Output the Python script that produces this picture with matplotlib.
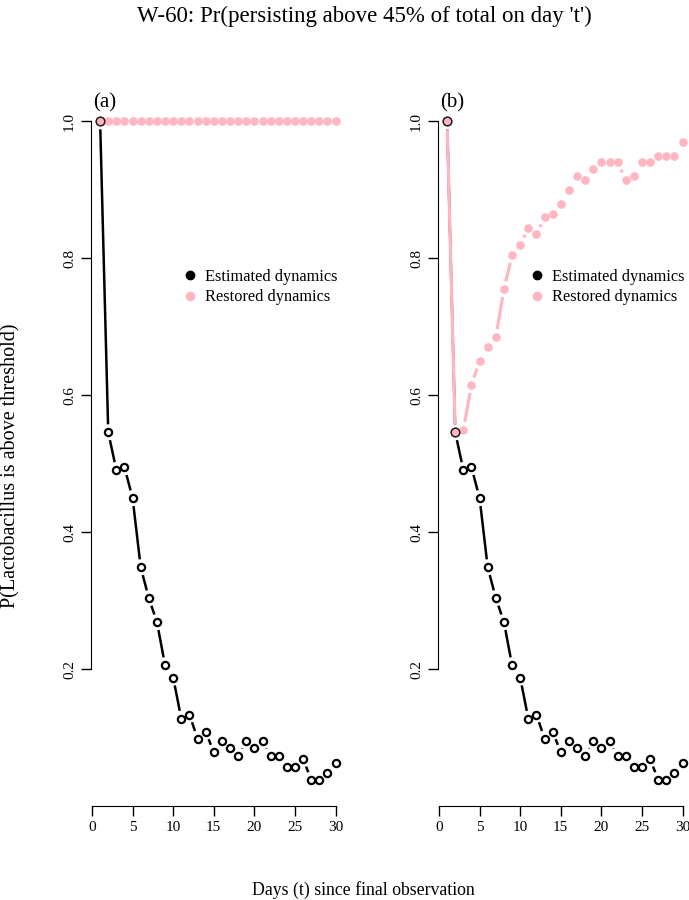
import matplotlib
matplotlib.use('Agg')
import matplotlib.pyplot as plt
import numpy as np

plt.rcParams['font.family'] = ['Liberation Serif', 'DejaVu Serif']

days = list(range(1, 31))
estimated = [1.0, 0.546, 0.491, 0.495, 0.450, 0.349, 0.304, 0.269, 0.206, 0.188,
             0.128, 0.134, 0.099, 0.109, 0.079, 0.095, 0.085, 0.074, 0.095, 0.085,
             0.095, 0.074, 0.074, 0.058, 0.058, 0.069, 0.039, 0.039, 0.049, 0.064]
restored_a = [1.0] * 30
restored_b = [1.0, 0.546, 0.550, 0.615, 0.650, 0.670, 0.685, 0.755, 0.805, 0.820,
              0.845, 0.835, 0.860, 0.865, 0.880, 0.900, 0.920, 0.915, 0.930, 0.940,
              0.940, 0.940, 0.915, 0.920, 0.940, 0.940, 0.950, 0.950, 0.950, 0.970]
intervention_a = [1]
intervention_b = [1, 2]
panel_names = ['(a)', '(b)']
x_ticks = [0, 5, 10, 15, 20, 25, 30]
y_ticks = [0.2, 0.4, 0.6, 0.8, 1.0]

PINK = '#ffb6c1'
W, H = 689, 900


def gap_line(ax, x, y, color, lw, z, gap=8.0):
    # R style type="b": segments stop short of the points
    tr = ax.transData
    pts = tr.transform(np.column_stack([x, y]))
    for i in range(len(pts) - 1):
        p0, p1 = pts[i], pts[i + 1]
        d = p1 - p0
        L = np.hypot(d[0], d[1])
        if L <= 2 * gap:
            continue
        u = d / L
        a = tr.inverted().transform([p0 + u * gap, p1 - u * gap])
        ax.plot(a[:, 0], a[:, 1], color=color, lw=lw, solid_capstyle='butt', zorder=z)


fig = plt.figure(figsize=(W / 100, H / 100), dpi=100)
panels = [(90.7, restored_a, intervention_a), (437.7, restored_b, intervention_b)]
for k, (left_px, restored, marked) in enumerate(panels):
    ax = fig.add_axes([left_px / W, (H - 806) / H, 254.3 / W, 711 / H])
    ax.set_xlim(1 - 29 * 0.04, 30 + 29 * 0.04)
    ymin, ymax = min(estimated), 1.0
    ext = (ymax - ymin) * 0.04
    ax.set_ylim(ymin - ext, ymax + ext)

    gap_line(ax, days, estimated, 'black', 1.8, 2)
    ax.plot(days, estimated, 'o', ms=5.2, mfc='none', mec='black', mew=1.6, zorder=3)
    gap_line(ax, days, restored, PINK, 2.3, 2.5)
    ax.plot(days, restored, 'o', ms=5.2, color=PINK, mec=PINK, zorder=4)
    mx = [days[i - 1] for i in marked]
    my = [restored[i - 1] for i in marked]
    ax.plot(mx, my, 'o', ms=6.2, mfc=PINK, mec='#222222', mew=1.1, zorder=5)

    for s in ['top', 'right']:
        ax.spines[s].set_visible(False)
    ax.spines['left'].set_bounds(0.2, 1.0)
    ax.spines['bottom'].set_bounds(0, 30)
    ax.set_xticks(x_ticks)
    ax.set_yticks(y_ticks)
    ax.set_yticklabels(['0.2', '0.4', '0.6', '0.8', '1.0'], rotation=90, va='center')
    ax.tick_params(direction='out', length=7, width=1, labelsize=11)
    ax.tick_params(axis='y', pad=3.5)
    ax.tick_params(axis='x', pad=4)
    ax.text(0.009, 0.989, panel_names[k], transform=ax.transAxes, fontsize=15,
            ha='left', va='center')

    h1, = ax.plot([], [], 'o', color='black', ms=6)
    h2, = ax.plot([], [], 'o', color=PINK, ms=6)
    ax.legend([h1, h2], ['Estimated dynamics', 'Restored dynamics'],
              loc='center left', bbox_to_anchor=(0.34, 0.73), frameon=False,
              fontsize=11.8, handlelength=0.8, handletextpad=0.5,
              labelspacing=0.3, borderaxespad=0)

# outer-margin texts are centred on the region right of the y label
fig.text(364 / W, 1 - 16 / H, "W-60: Pr(persisting above 45% of total on day 't')",
         ha='center', va='center', fontsize=16.5)
fig.text(363 / W, 1 - 890 / H, 'Days (t) since final observation',
         ha='center', va='center', fontsize=12.8)
fig.text(11 / W, 1 - 466 / H, 'P(Lactobacillus is above threshold)',
         ha='center', va='center', rotation=90, fontsize=14.5)

fig.savefig('out.png', dpi=100)
